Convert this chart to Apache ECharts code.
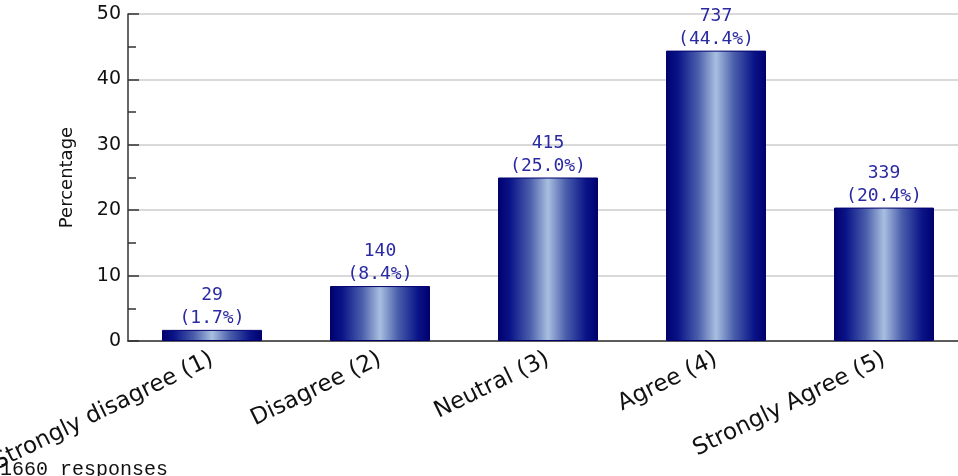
<!DOCTYPE html>
<html>
<head>
<meta charset="utf-8">
<script src="https://cdn.jsdelivr.net/npm/echarts@6/dist/echarts.min.js"></script>
<style>
html,body{margin:0;padding:0;background:#fff;overflow:hidden;width:958px;height:476px;}
#chart{width:968px;height:476px;}
</style>
</head>
<body>
<div id="chart"></div>
<script>
var categories = ['Strongly disagree (1)', 'Disagree (2)', 'Neutral (3)', 'Agree (4)', 'Strongly Agree (5)'];
var counts = [29, 140, 415, 737, 339];
var percentages = [1.7, 8.4, 25.0, 44.4, 20.4];
var yTicks = [0, 10, 20, 30, 40, 50];
var footerText = '1660 responses';

var chart = echarts.init(document.getElementById('chart'), null, {renderer: 'canvas'});
var barGradient = new echarts.graphic.LinearGradient(0, 0, 1, 0, [
  {offset: 0, color: '#00006e'},
  {offset: 0.12, color: '#0a1488'},
  {offset: 0.32, color: '#4a5eab'},
  {offset: 0.5, color: '#a9bfdf'},
  {offset: 0.68, color: '#4a5eab'},
  {offset: 0.88, color: '#0a1488'},
  {offset: 1, color: '#00006e'}
]);
chart.setOption({
  animation: false,
  backgroundColor: '#ffffff',
  grid: {left: 128, right: 0, top: 14, bottom: 135, containLabel: false, outerBoundsMode: 'none'},
  xAxis: {
    type: 'category',
    data: categories,
    axisLine: {show: true, lineStyle: {color: '#333333', width: 1.5}},
    axisTick: {show: false},
    axisLabel: {
      interval: 0,
      rotate: 26,
      margin: 17,
      color: '#111111',
      fontFamily: 'DejaVu Sans',
      fontSize: 23
    }
  },
  yAxis: {
    type: 'value',
    min: yTicks[0],
    max: yTicks[yTicks.length - 1],
    interval: 10,
    name: 'Percentage',
    nameLocation: 'middle',
    nameGap: 52,
    nameTextStyle: {color: '#111111', fontFamily: 'DejaVu Sans', fontSize: 18},
    axisLine: {show: true, lineStyle: {color: '#333333', width: 1.5}},
    axisTick: {show: true, inside: true, length: 11, lineStyle: {color: '#333333', width: 1.5}},
    minorTick: {show: true, splitNumber: 2, length: 8, lineStyle: {color: '#333333', width: 1.5}},
    splitLine: {show: true, lineStyle: {color: '#cccccc', width: 1.5}},
    axisLabel: {
      margin: 7,
      color: '#111111',
      fontFamily: 'DejaVu Sans',
      fontSize: 19,
      formatter: function (v) { return String(v); }
    }
  },
  series: [{
    type: 'bar',
    data: percentages,
    barWidth: 100,
    itemStyle: {color: barGradient, borderColor: '#00006e', borderWidth: 1},
    label: {
      show: true,
      position: 'top',
      distance: 0,
      color: '#2a2aa2',
      fontFamily: 'DejaVu Sans Mono',
      fontSize: 18,
      lineHeight: 23,
      formatter: function (p) {
        return counts[p.dataIndex] + '\n(' + percentages[p.dataIndex].toFixed(1) + '%)';
      }
    }
  }],
  graphic: [{
    type: 'text',
    left: 0,
    top: 460,
    style: {
      text: footerText,
      fill: '#111111',
      font: '20px "Liberation Mono"'
    }
  }]
});
</script>
</body>
</html>
